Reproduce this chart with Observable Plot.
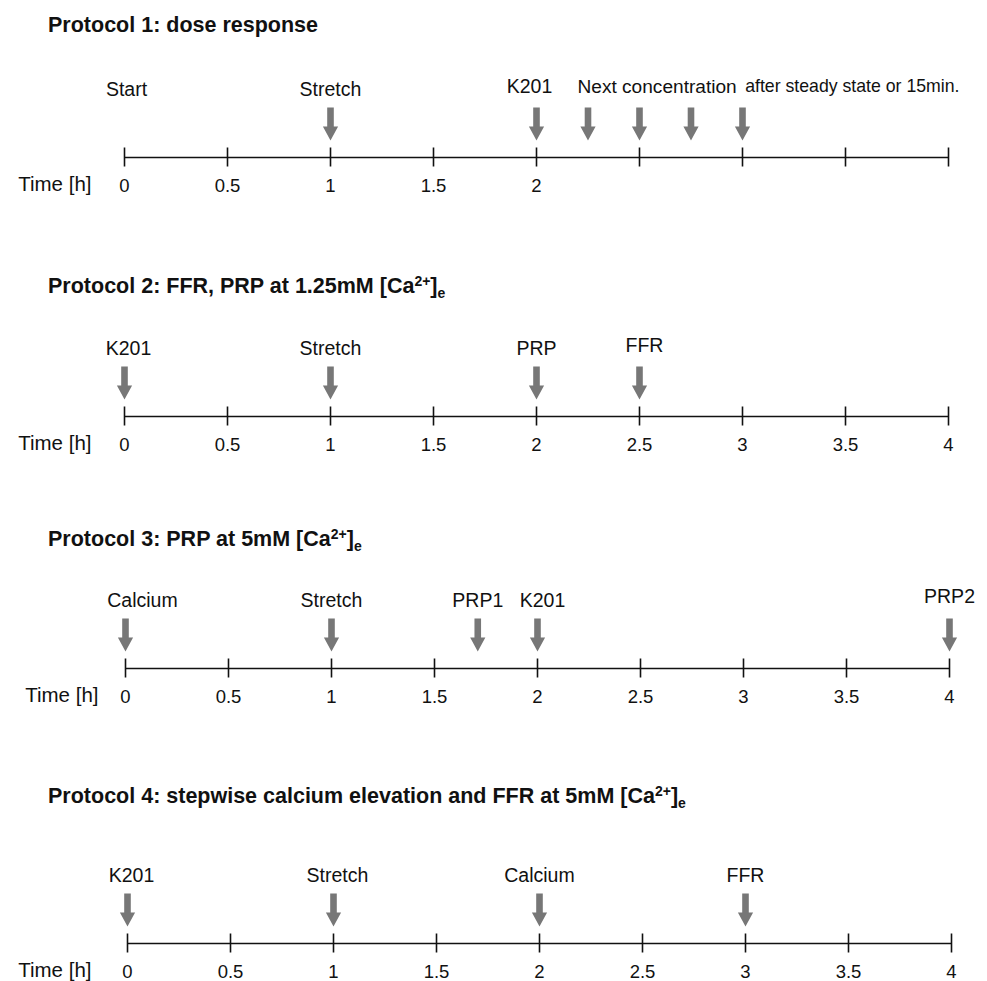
<!DOCTYPE html>
<html>
<head>
<meta charset="utf-8">
<script src="https://cdn.jsdelivr.net/npm/d3@7"></script>
<script src="https://cdn.jsdelivr.net/npm/@observablehq/plot@0.6"></script>
<style>
  html, body { margin: 0; padding: 0; background: #fff; overflow: hidden; }
  #root { position: relative; width: 987px; height: 981px; font-family: "Liberation Sans", Arial, Helvetica, sans-serif; color: #111; }
  .title { position: absolute; left: 48px; font-weight: bold; font-size: 21.5px; line-height: 21.5px; white-space: nowrap; }
  .title .sup { font-size: 14px; position: relative; top: -7px; }
  .title .sub { font-size: 14px; position: relative; top: 5px; }
  .panel { position: absolute; left: 0; }
</style>
</head>
<body>
<div id="root"></div>
<script>
// ---------- data ----------
const tickValues = [0, 0.5, 1, 1.5, 2, 2.5, 3, 3.5, 4];
const timeLabel = "Time [h]";

// Protocol 1
const p1Title = [{t: "Protocol 1: dose response"}];
const p1TickLabels = [0, 0.5, 1, 1.5, 2];
const p1ArrowTimes = [1, 2, 2.25, 2.5, 2.75, 3];
const p1LabelTimes = [0, 1, 2];
const p1LabelTexts = ["Start", "Stretch", "K201"];
const p1NoteTime = 2.25;
const p1NoteMain = "Next concentration";
const p1NoteSmall = "after steady state or 15min.";

// Protocol 2
const p2Title = [{t: "Protocol 2: FFR, PRP at 1.25mM [Ca"}, {sup: "2+"}, {t: "]"}, {sub: "e"}];
const p2TickLabels = [0, 0.5, 1, 1.5, 2, 2.5, 3, 3.5, 4];
const p2Times = [0, 1, 2, 2.5];
const p2Texts = ["K201", "Stretch", "PRP", "FFR"];

// Protocol 3
const p3Title = [{t: "Protocol 3: PRP at 5mM [Ca"}, {sup: "2+"}, {t: "]"}, {sub: "e"}];
const p3TickLabels = [0, 0.5, 1, 1.5, 2, 2.5, 3, 3.5, 4];
const p3Times = [0, 1, 1.71, 2, 4];
const p3Texts = ["Calcium", "Stretch", "PRP1", "K201", "PRP2"];

// Protocol 4
const p4Title = [{t: "Protocol 4: stepwise calcium elevation and FFR at 5mM [Ca"}, {sup: "2+"}, {t: "]"}, {sub: "e"}];
const p4TickLabels = [0, 0.5, 1, 1.5, 2, 2.5, 3, 3.5, 4];
const p4Times = [0, 1, 2, 3];
const p4Texts = ["K201", "Stretch", "Calcium", "FFR"];

// ---------- rendering ----------
const FONT = '"Liberation Sans", Arial, Helvetica, sans-serif';
const INK = "#111";
const ARROW = "#777";

const blockArrow = {
  draw(ctx, l) {
    const sw = 3.3, hw = 7.6, hl = 14;
    ctx.moveTo(-sw, 0);
    ctx.lineTo(-sw, -(l - hl));
    ctx.lineTo(-hw, -(l - hl));
    ctx.lineTo(0, -l);
    ctx.lineTo(hw, -(l - hl));
    ctx.lineTo(sw, -(l - hl));
    ctx.lineTo(sw, 0);
    ctx.closePath();
  }
};

function titleHTML(parts) {
  return parts.map(p => p.sup ? `<span class="sup">${p.sup}</span>`
                      : p.sub ? `<span class="sub">${p.sub}</span>`
                      : p.t).join("");
}

// small horizontal nudges of some labels relative to their arrow (layout only)
function labelMarks(labels, nudges) {
  const plain = labels.filter(d => !(d.text in nudges));
  const marks = [Plot.text(plain, {x: "t", y: 68, text: "text", fontSize: 19.5, fill: INK})];
  for (const d of labels.filter(d => d.text in nudges)) {
    const n = nudges[d.text];
    marks.push(Plot.text([d], {x: "t", y: 68 + (n.dy || 0), text: "text", dx: n.dx || 0, fontSize: 19.5, fill: INK}));
  }
  return marks;
}

function panel({x0, tickLabels, arrowTimes, labels, nudges = {}, timeDx = -33, extra = []}) {
  return Plot.plot({
    width: 987,
    height: 140,
    marginLeft: x0,
    marginRight: 987 - x0 - 824,
    marginTop: 0,
    marginBottom: 0,
    x: {domain: [0, 4], axis: null},
    y: {domain: [-40, 100], axis: null},
    style: {fontFamily: FONT, color: INK, background: "transparent", overflow: "visible"},
    marks: [
      Plot.ruleY([0], {stroke: INK, strokeWidth: 1.6}),
      Plot.ruleX(tickValues, {x: d => d, y1: -9.5, y2: 9.5, stroke: INK, strokeWidth: 1.6}),
      Plot.text(tickLabels, {x: d => d, y: -29, text: d => String(d), fontSize: 18.5, fill: INK}),
      Plot.text([timeLabel], {x: 0, y: -27, text: d => d, textAnchor: "end", dx: timeDx, fontSize: 20.5, fill: INK}),
      Plot.vector(arrowTimes, {x: d => d, y: 17, length: 33, rotate: 180, anchor: "end", shape: blockArrow, fill: ARROW, stroke: "none"}),
      ...labelMarks(labels, nudges),
      ...extra
    ]
  });
}

const root = document.getElementById("root");
function addProtocol(titleParts, titleTop, axisY, chart) {
  const t = document.createElement("div");
  t.className = "title";
  t.style.top = titleTop + "px";
  t.innerHTML = titleHTML(titleParts);
  root.appendChild(t);
  const p = document.createElement("div");
  p.className = "panel";
  p.style.top = (axisY - 100) + "px";
  p.appendChild(chart);
  root.appendChild(p);
}

const zip = (ts, xs) => ts.map((t, i) => ({t, text: xs[i]}));

addProtocol(p1Title, 14.5, 157, panel({
  x0: 124,
  tickLabels: p1TickLabels,
  arrowTimes: p1ArrowTimes,
  labels: zip(p1LabelTimes, p1LabelTexts),
  nudges: {"K201": {dx: -7, dy: 3}, "Start": {dx: 2}},
  extra: [
    Plot.text([p1NoteMain], {x: p1NoteTime, y: 71, text: d => d, textAnchor: "start", dx: -10.5, fontSize: 19.1, fill: INK}),
    Plot.text([p1NoteSmall], {x: 4, y: 71, text: d => d, textAnchor: "end", dx: 11, fontSize: 17.7, fill: INK})
  ]
}));

addProtocol(p2Title, 275.5, 416, panel({
  x0: 124, tickLabels: p2TickLabels, arrowTimes: p2Times, labels: zip(p2Times, p2Texts),
  nudges: {"K201": {dx: 4}, "FFR": {dx: 5, dy: 3}}
}));

addProtocol(p3Title, 528.5, 668, panel({
  x0: 125, tickLabels: p3TickLabels, arrowTimes: p3Times, labels: zip(p3Times, p3Texts),
  nudges: {"Calcium": {dx: 17}, "K201": {dx: 5}, "PRP2": {dy: 4}},
  timeDx: -27
}));

addProtocol(p4Title, 785.5, 943, panel({
  x0: 127, tickLabels: p4TickLabels, arrowTimes: p4Times, labels: zip(p4Times, p4Texts),
  nudges: {"K201": {dx: 4}, "Stretch": {dx: 4}},
  timeDx: -36
}));
</script>
</body>
</html>
